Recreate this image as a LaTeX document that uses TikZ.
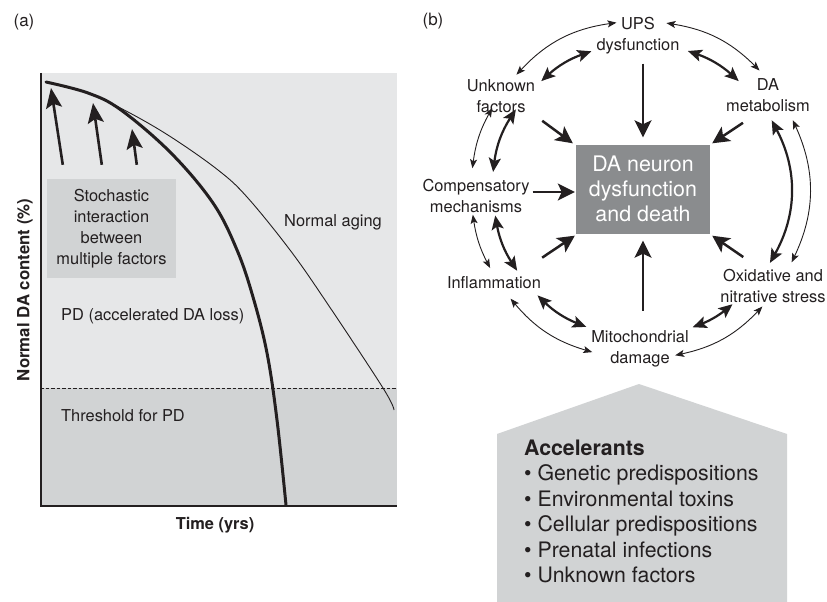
\documentclass[tikz,border=0pt]{standalone}
\usepackage{fontspec}
\setmainfont{TeX Gyre Heros}
\usetikzlibrary{arrows.meta,calc}
\definecolor{ink}{HTML}{231F20}
\definecolor{lightg}{HTML}{E6E7E8}
\definecolor{midg}{HTML}{D1D3D4}
\definecolor{darkg}{HTML}{8A8C8E}
\begin{document}
\begin{tikzpicture}[x=1pt,y=1pt,
  lbl/.style={font=\fontsize{16.4}{21}\selectfont, text=ink, align=center, inner sep=0pt},
  biglbl/.style={font=\fontsize{21.3}{25.5}\selectfont, text=ink, align=left, inner sep=0pt},
  thinarr/.style={draw=ink, line width=0.9pt, {Stealth[length=9pt,width=7pt,inset=2pt]}-{Stealth[length=9pt,width=7pt,inset=2pt]}},
  thickarr/.style={draw=ink, line width=2.2pt, {Stealth[length=14pt,width=12pt,inset=3pt]}-{Stealth[length=14pt,width=12pt,inset=3pt]}},
  bigarr/.style={draw=ink, line width=2.5pt, -{Stealth[length=17pt,width=17pt,inset=4pt]}},
  upar/.style={draw=ink, line width=2.6pt, -{Stealth[length=20pt,width=16pt,inset=4pt]}},
]
\useasboundingbox (0,0) rectangle (827,-602);
\fill[white] (0,0) rectangle (827,-602);

% ---------------- panel (a) ----------------
\node[lbl, font=\fontsize{17}{20}\selectfont] (la) at (24,-22) {(a)};
\fill[lightg] (40,-73) rectangle (397,-388);
\fill[midg] (40,-388) rectangle (397,-506);
\draw[ink, line width=0.9pt, dash pattern=on 3.5pt off 2pt] (40,-388) -- (397,-388);
\draw[ink, line width=2.6pt] (41,-73) -- (41,-506) -- (397,-506);

\draw[ink, line width=3pt, line cap=round] plot[smooth, tension=0.6] coordinates {
  (46,-82) (88,-93) (121,-110) (171,-153) (213,-203) (237,-250) (253,-297) (267,-353) (277,-420) (286,-505)};
\draw[ink, line width=0.9pt] plot[smooth, tension=0.6] coordinates {
  (46,-82) (88,-93) (128,-112) (171,-137) (218,-170) (247,-197) (290,-250) (327,-303) (383,-388) (394,-410)};

\node[lbl, fill=midg, minimum width=129pt, minimum height=99pt] (stoch) at (111.5,-228.5)
  {Stochastic\\interaction\\between\\multiple factors};
\coordinate (t1) at (51,-88);
\coordinate (t2) at (93,-103);
\coordinate (t3) at (132,-129);
\draw[upar] ($(stoch.north west)+(16,14)$) -- (t1);
\draw[upar] ($(stoch.north west)+(55,14)$) -- (t2);
\draw[upar] ($(stoch.north west)+(90,14)$) -- (t3);

\node[lbl] (aging) at (333,-222) {Normal aging};
\node[lbl, anchor=west] (pdl) at (61,-316) {PD (accelerated DA loss)};
\node[lbl, anchor=west] (thr) at (61,-416) {Threshold for PD};
\node[lbl, font=\bfseries\fontsize{16.4}{20}\selectfont] (xlab) at (215,-525) {Time (yrs)};
\node[lbl, font=\bfseries\fontsize{16.8}{20}\selectfont, rotate=90] (ylab) at (25,-290) {Normal DA content (\%)};

% ---------------- panel (b) ----------------
\node[lbl, font=\fontsize{17}{20}\selectfont] (lb) at (433,-21) {(b)};

\node[fill=darkg, minimum width=134pt, minimum height=89pt, text=white,
      font=\fontsize{21.4}{25}\selectfont, align=center, inner sep=0pt] (box) at (643,-189) {DA neuron\\dysfunction\\and death};

\node[lbl] (ups) at (638,-36) {UPS\\dysfunction};
\node[lbl] (unk) at (501,-96) {Unknown\\factors};
\node[lbl] (dam) at (768,-95) {DA\\metabolism};
\node[lbl] (comp) at (476,-196) {Compensatory\\mechanisms};
\node[lbl] (infl) at (494,-283) {Inflammation};
\node[lbl] (ox) at (773,-286) {Oxidative and\\nitrative stress};
\node[lbl] (mito) at (640,-349) {Mitochondrial\\damage};

% straight arrows into the box
\draw[bigarr] ($(box.north |- ups.south)+(0,-9)$) -- ($(box.north)+(0,7)$);
\draw[bigarr] ($(box.south |- mito.north)+(0,20)$) -- ($(box.south)+(0,-7)$);
\draw[bigarr] ($(comp.east)+(3,4)$) -- ($(comp.east -| box.west)+(-1,4)$);
\draw[bigarr] ($(unk.south east)+(7,-8)$) -- ($(box.north west)+(-3,1)$);
\draw[bigarr] ($(dam.south west)+(17,-11)$) -- ($(box.north east)+(2,1)$);
\draw[bigarr] ($(infl.north east)+(1,19)$) -- ($(box.south west)+(-1,-2)$);
\draw[bigarr] ($(ox.north west)+(23,12)$) -- ($(box.south east)+(2,-2)$);

% ring of double arrows
\coordinate (C) at (640,-190);
\foreach \n/\a/\b/\r in {o1/45/81/169, o2/98/137/169, o3/151/172.6/169, o4/188.4/207.5/169,
                         o5/220/253.6/169, o6/282/316.4/169, o7/-25.5/24.6/168,
                         i1/47.8/71/147, i2/109.3/132.2/147, i3/147/173/148, i4/190/213.3/147,
                         i5/225.8/248.6/147, i6/291/309/147, i7/-29.3/27.9/149}{
  \coordinate (\n a) at ($(C)+(\a:\r pt)$);
  \coordinate (\n b) at ($(C)+(\b:\r pt)$);
}
\draw[thinarr] (o1a) to[bend right=18] (o1b);
\draw[thinarr] (o2a) to[bend right=19.5] (o2b);
\draw[thinarr] (o3a) to[bend right=10.8] (o3b);
\draw[thinarr] (o4a) to[bend right=9.5] (o4b);
\draw[thinarr] (o5a) to[bend right=16.8] (o5b);
\draw[thinarr] (o6a) to[bend right=17.2] (o6b);
\draw[thinarr] (o7a) to[bend right=25] (o7b);

\draw[thickarr] (i1a) to[bend right=11.6] (i1b);
\draw[thickarr] (i2a) to[bend right=11.5] (i2b);
\draw[thickarr] (i3a) to[bend right=13] (i3b);
\draw[thickarr] (i4a) to[bend right=11.6] (i4b);
\draw[thickarr] (i5a) to[bend right=11.4] (i5b);
\draw[thickarr] (i6a) to[bend right=9] (i6b);
\draw[thickarr] (i7a) to[bend right=28.6] (i7b);

% accelerants
\fill[midg] (497,-434) -- (639,-384) -- (787,-434) -- (787,-602) -- (497,-602) -- cycle;
\node[biglbl, anchor=north west] (acc) at (524,-439.5)
  {\textbf{Accelerants}\\
   • Genetic predispositions\\
   • Environmental toxins\\
   • Cellular predispositions\\
   • Prenatal infections\\
   • Unknown factors};
\end{tikzpicture}
\end{document}
